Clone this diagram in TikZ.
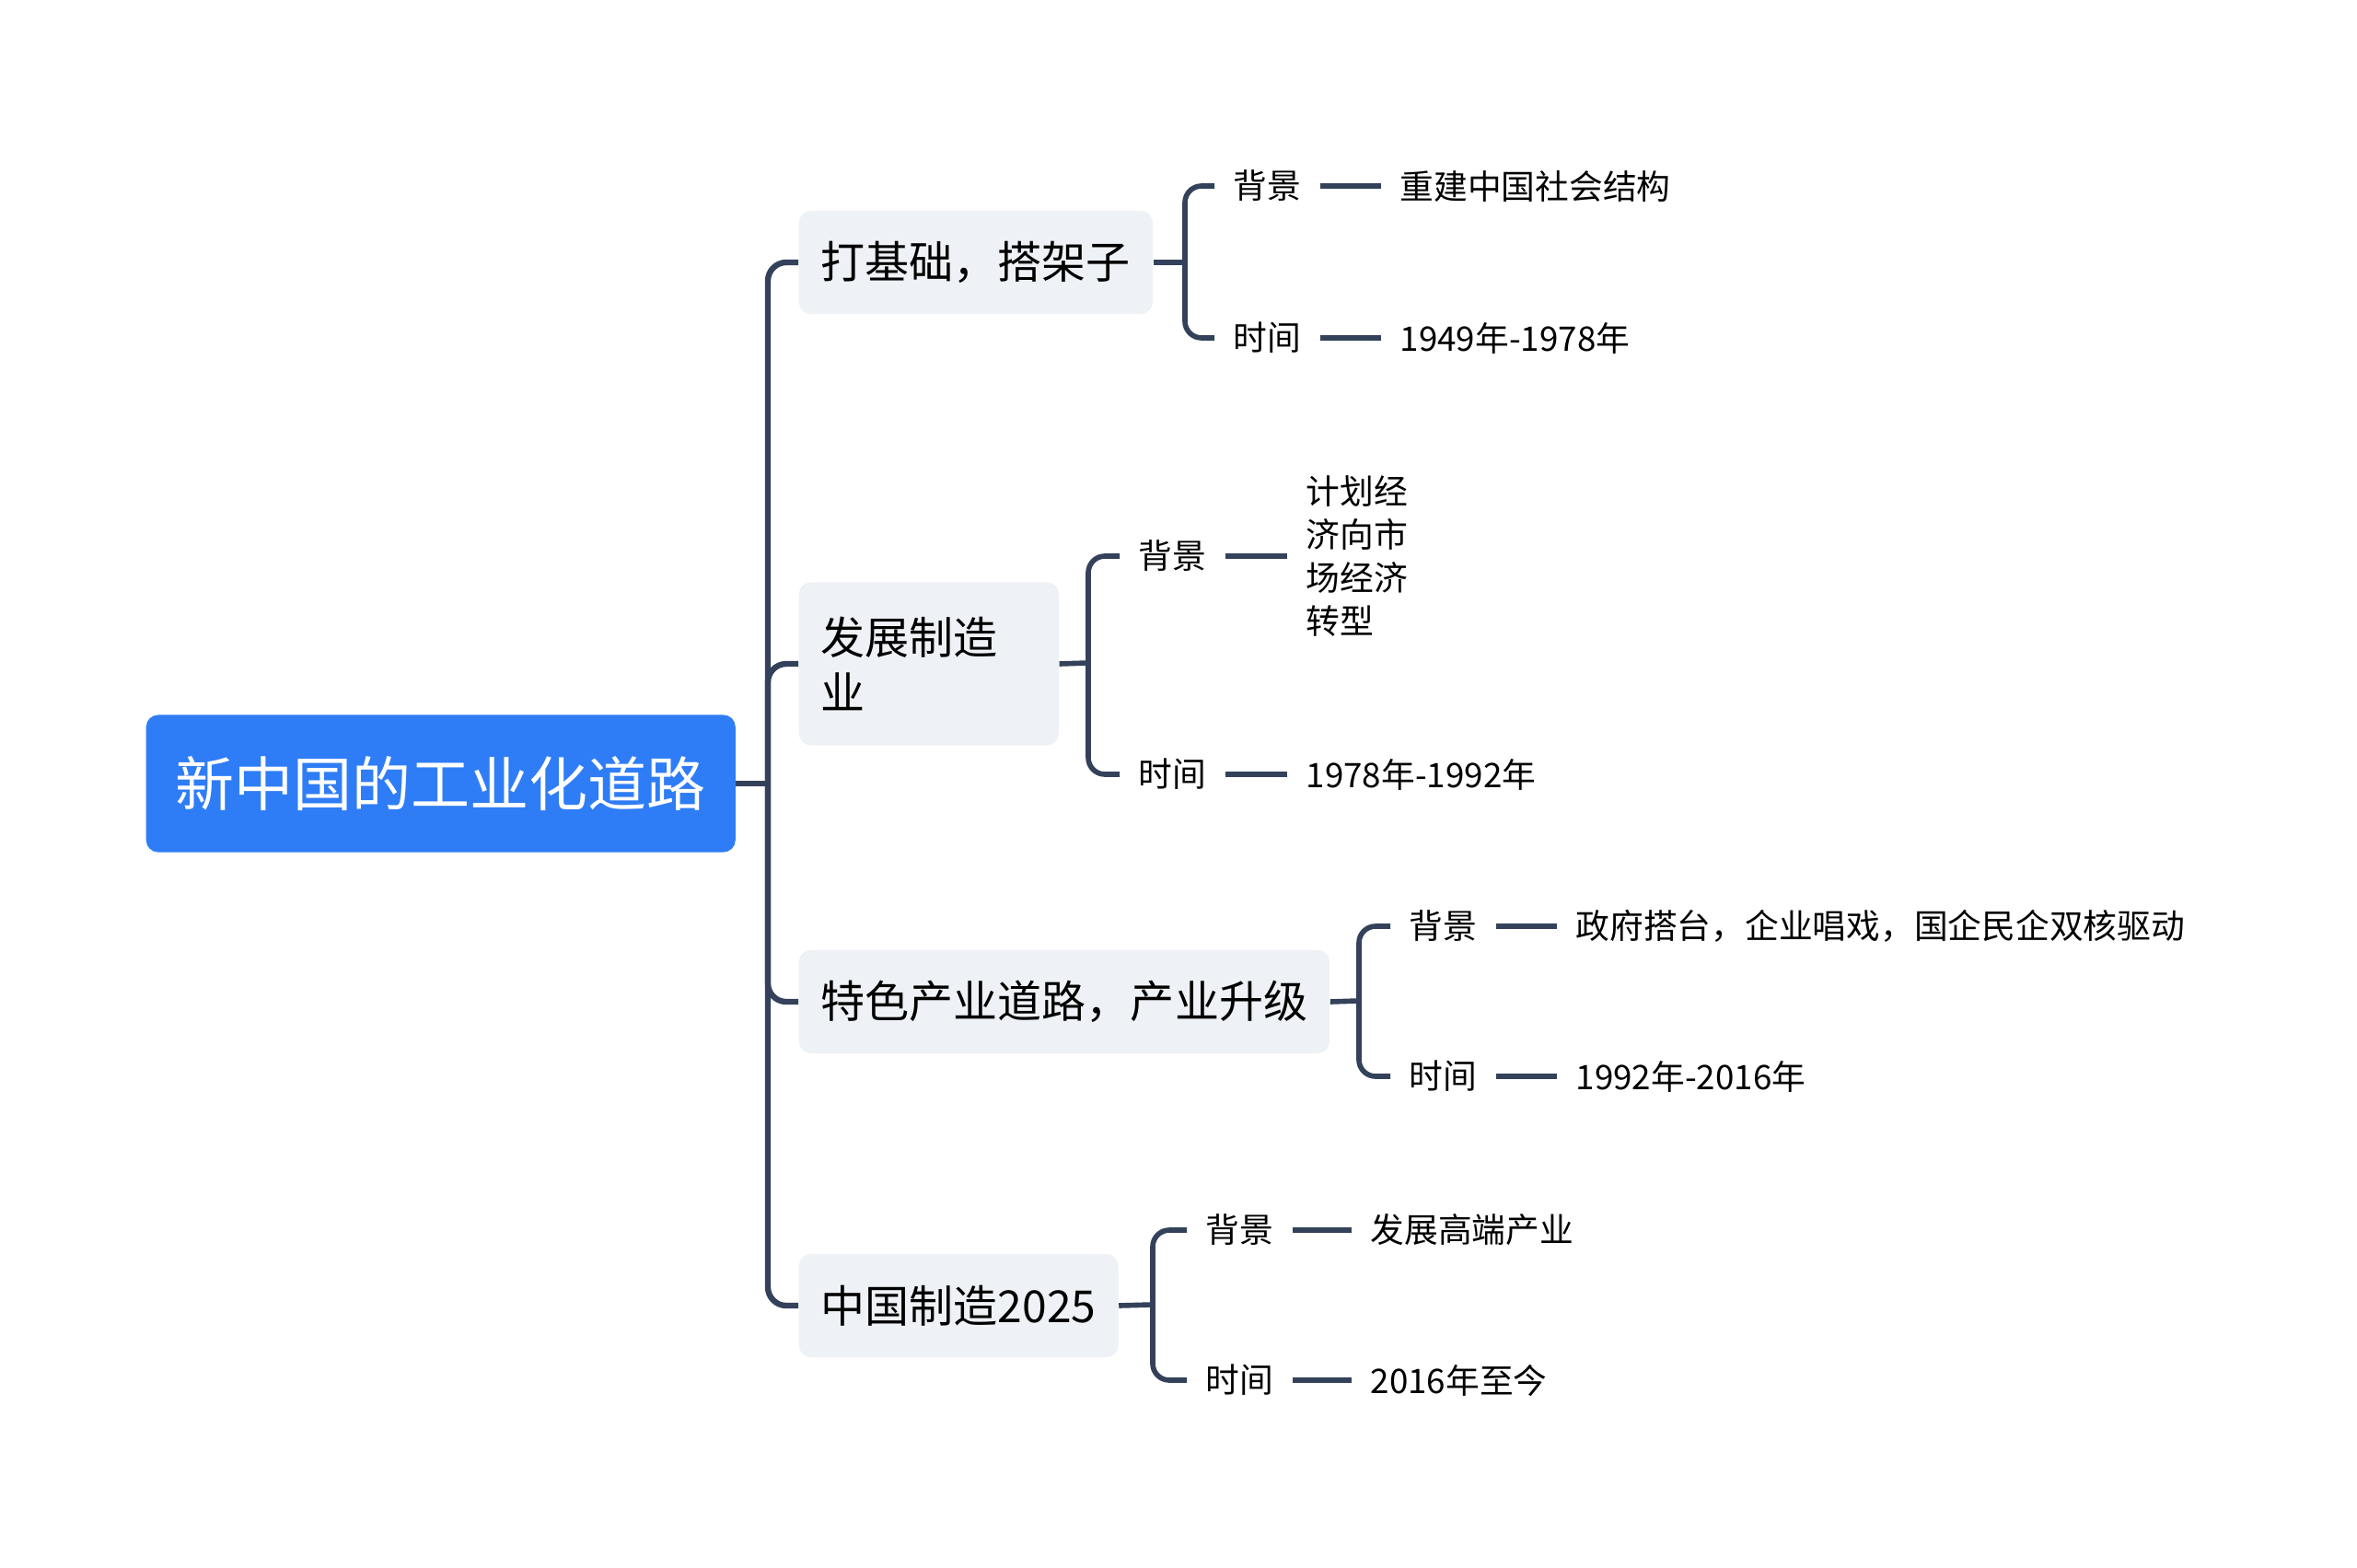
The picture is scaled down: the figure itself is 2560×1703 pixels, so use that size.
\documentclass[tikz,border=0pt]{standalone}
\usepackage{fontspec}
\setmainfont{Noto Sans CJK SC}
\usetikzlibrary{positioning}
\definecolor{RootBlue}{HTML}{2F7DF6}
\definecolor{TopicGray}{HTML}{EEF1F5}
\definecolor{LineSlate}{HTML}{33425A}
\tikzset{
  rootbox/.style={fill=RootBlue,rounded corners=0.13cm,text=white,
    font=\fontsize{18.2}{22}\selectfont,inner xsep=0.32cm,
    minimum height=1.49cm,anchor=west},
  topicbox/.style={fill=TopicGray,rounded corners=0.13cm,
    font=\fontsize{13.66}{17.1}\selectfont,inner xsep=0.24cm,
    minimum height=1.12cm,anchor=west,align=left},
  detail/.style={font=\fontsize{10.45}{13.4}\selectfont,inner xsep=0.2cm,
    inner ysep=0.05cm,anchor=west,align=left},
  trunk/.style={LineSlate,line width=1.8pt,rounded corners=0.2cm},
  twig/.style={LineSlate,line width=1.6pt,rounded corners=0.18cm},
}
\begin{document}
\begin{tikzpicture}[x=0.01cm,y=-0.01cm]

        \path[fill=white,use as bounding box] (0,0) rectangle (2560,1703);

        % root and main topics
        \node[rootbox] (root) at (158,851) {新中国的工业化道路};

        \node[topicbox] (t1) at (867,285) {打基础，搭架子};
        \node[topicbox,text width=2.34cm,minimum height=1.77cm]
          (t2) at (867,721) {发展制造\\业};
        \node[topicbox] (t3) at (867,1088) {特色产业道路，产业升级};
        \node[topicbox] (t4) at (867,1418) {中国制造2025};

        \coordinate (hub) at (834,851);
        \draw[LineSlate,line width=1.8pt] (root.east) -- (hub);
        \foreach \t in {t1,t2,t3,t4}
          \draw[trunk] (hub) |- (\t.west);

        % 打基础，搭架子
        \coordinate (b1) at (1287,285);
        \node[detail] (d1a) at (1319,202) {背景};
        \node[detail] (d1b) at (1319,367) {时间};
        \node[detail] (l1a) at (1500,202) {重建中国社会结构};
        \node[detail] (l1b) at (1500,367) {1949年-1978年};

        % 发展制造业
        \coordinate (b2) at (1182,720);
        \node[detail] (d2a) at (1216,604) {背景};
        \node[detail] (d2b) at (1216,841) {时间};
        \node[detail] (l2a) at (1398,604) {计划经\\济向市\\场经济\\转型};
        \node[detail] (l2b) at (1398,841) {1978年-1992年};

        % 特色产业道路，产业升级
        \coordinate (b3) at (1476,1087);
        \node[detail] (d3a) at (1510,1006) {背景};
        \node[detail] (d3b) at (1510,1169) {时间};
        \node[detail] (l3a) at (1691,1006) {政府搭台，企业唱戏，国企民企双核驱动};
        \node[detail] (l3b) at (1691,1169) {1992年-2016年};

        % 中国制造2025
        \coordinate (b4) at (1252,1417);
        \node[detail] (d4a) at (1289,1336) {背景};
        \node[detail] (d4b) at (1289,1499) {时间};
        \node[detail] (l4a) at (1468,1336) {发展高端产业};
        \node[detail] (l4b) at (1468,1499) {2016年至今};

        \foreach \i in {1,2,3,4} {
          \draw[twig] (t\i.east) -- (b\i);
          \draw[twig] (b\i) |- (d\i a.west);
          \draw[twig] (b\i) |- (d\i b.west);
          \draw[twig] (d\i a.east) -- (l\i a.west);
          \draw[twig] (d\i b.east) -- (l\i b.west);
        }

      \end{tikzpicture}
\end{document}
